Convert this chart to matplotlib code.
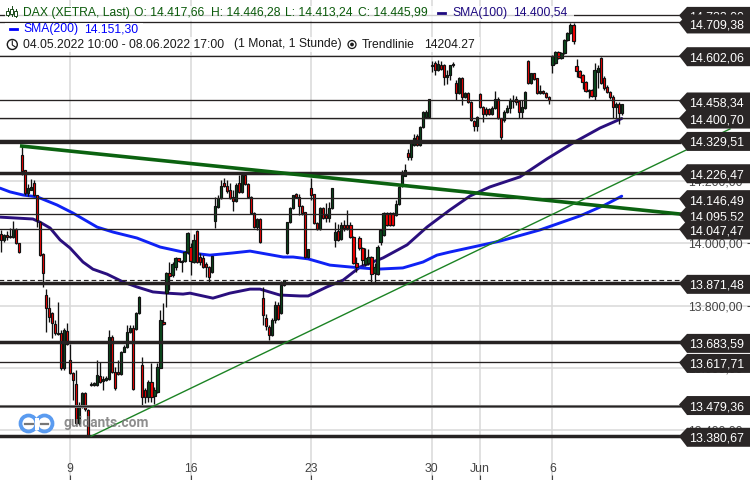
import matplotlib
matplotlib.use("Agg")
import matplotlib.pyplot as plt
from matplotlib.patches import Polygon, Rectangle, Circle
from matplotlib.lines import Line2D

plt.rcParams['font.family'] = ['Liberation Sans', 'DejaVu Sans']

opens = [14030,14011,14027,14023,14020,14046,14001,14283,14235,14161,
14171,14194,14155,14068,13966,13834,13792,13776,13741,13709,
13712,13600,13718,13625,13584,13548,13423,13481,13519,13465,
13545,13545,13545,13574,13558,13561,13564,13699,13587,13587,
13580,13651,13667,13715,13728,13725,13776,13609,13529,13507,
13555,13510,13523,13600,13747,13840,13905,13898,13924,13953,
13940,13943,13972,13988,13940,14039,13956,13953,13934,13924,
13908,14072,14117,14145,14194,14184,14171,14149,14136,14194,
14165,14219,14190,14149,14097,14052,14078,13824,13760,13731,
13706,13754,13802,13776,13866,13969,14068,14113,14158,14149,
14120,14100,13956,14178,14158,14065,14046,14113,14091,14081,
14113,14011,14039,14014,14059,14059,14059,14020,13937,14017,
13985,13934,13937,13956,13905,13901,14004,14027,14097,14097,
14097,14091,14126,14184,14216,14290,14277,14316,14344,14316,
14373,14405,14405,14569,14579,14556,14572,14572,14534,14540,
14572,14515,14482,14531,14470,14482,14454,14393,14377,14479,
14438,14431,14431,14415,14434,14463,14402,14396,14421,14434,
14457,14463,14457,14421,14434,14585,14515,14547,14531,14482,
14489,14482,14470,14572,14579,14614,14595,14611,14653,14675,
14701,14569,14553,14540,14518,14489,14492,14473,14550,14595,
14531,14502,14486,14470,14438,14447,14417.66]

closes = [14011,14027,14020,14020,14046,14001,13972,14232,14161,14178,
14181,14155,14075,13962,13905,13792,13763,13744,13712,13712,
13600,13722,13677,13584,13561,13423,13481,13519,13468,13385,
13548,13552,13577,13555,13564,13568,13699,13587,13536,13580,
13651,13667,13715,13728,13532,13776,13828,13507,13507,13555,
13507,13529,13603,13754,13741,13905,13895,13934,13953,13943,
13943,13972,14033,13943,14011,13940,13940,13924,13924,13892,
13959,14120,14145,14184,14184,14168,14145,14136,14187,14165,
14219,14190,14149,14097,14052,14078,14004,13770,13735,13706,
13754,13802,13757,13866,13882,14068,14113,14155,14149,14120,
14097,13956,13982,14155,14065,14046,14113,14081,14081,14113,
14178,14036,14011,14059,14049,14049,14020,13937,13924,13985,
13946,13953,13956,13901,13924,13988,14043,14097,14059,14059,
14059,14126,14181,14219,14235,14277,14322,14338,14316,14373,
14421,14421,14463,14572,14556,14576,14559,14534,14540,14572,
14576,14482,14531,14470,14482,14454,14396,14377,14405,14438,
14415,14415,14415,14434,14463,14402,14341,14421,14434,14460,
14460,14454,14421,14438,14486,14515,14547,14527,14482,14489,
14482,14470,14460,14601,14614,14595,14611,14653,14675,14701,
14649,14553,14534,14518,14489,14492,14473,14556,14563,14515,
14499,14486,14470,14438,14447,14418,14445.99]

highs = [14043,14030,14039,14049,14072,14049,14001,14316,14235,14190,
14206,14203,14155,14072,13969,13853,13828,13779,13754,13812,
13722,13728,13744,13677,13587,13593,13491,13523,13523,13468,
13555,13555,13625,13619,13574,13574,13722,13706,13603,13625,
13654,13674,13738,13738,13738,13779,13831,13635,13536,13561,
13616,13539,13616,13786,13808,13908,13940,13940,13956,13953,
13946,13975,14036,14001,14030,14043,13969,13962,13940,13927,
13959,14149,14155,14203,14210,14203,14194,14171,14194,14219,
14229,14219,14194,14152,14100,14081,14081,13860,13773,13738,
13760,13815,13812,13879,13882,14068,14117,14155,14161,14158,
14123,14100,13982,14210,14158,14068,14117,14117,14129,14133,
14178,14068,14062,14068,14075,14107,14068,14023,13956,14023,
13988,13985,13982,13959,13937,13994,14043,14100,14100,14100,
14100,14139,14184,14235,14254,14303,14328,14351,14351,14377,
14425,14428,14463,14585,14585,14588,14585,14576,14556,14572,
14582,14524,14534,14534,14486,14486,14457,14396,14409,14482,
14441,14438,14434,14441,14489,14470,14402,14428,14444,14466,
14476,14473,14460,14460,14489,14588,14547,14547,14531,14508,
14492,14486,14473,14604,14617,14617,14614,14656,14678,14707,
14707,14592,14556,14543,14521,14495,14495,14579,14572,14598,
14537,14508,14489,14476,14454,14454,14446.28]

lows = [13972,14004,14011,14017,14017,13998,13969,14219,14155,14152,
14171,14152,14052,13959,13860,13715,13747,13696,13706,13706,
13593,13593,13674,13580,13497,13417,13417,13471,13462,13381,
13542,13542,13542,13552,13529,13558,13561,13584,13529,13577,
13577,13651,13664,13712,13529,13722,13773,13481,13487,13491,
13491,13484,13520,13600,13738,13796,13850,13892,13914,13940,
13908,13940,13966,13898,13937,13937,13930,13921,13892,13876,
13905,14049,14113,14142,14181,14161,14142,14104,14133,14161,
14161,14187,14145,14094,14049,14043,14001,13738,13722,13690,
13703,13744,13754,13773,13863,13966,14065,14110,14145,14091,
14091,13953,13953,14139,14062,14043,14043,14078,14068,14068,
14110,13988,14007,14011,14039,14043,14017,13934,13908,13978,
13930,13927,13930,13872,13872,13898,13994,14023,14055,14055,
14055,14088,14123,14181,14216,14267,14267,14312,14312,14312,
14370,14402,14402,14550,14540,14553,14556,14508,14511,14524,
14566,14460,14479,14444,14466,14450,14393,14360,14360,14434,
14389,14409,14412,14412,14431,14399,14332,14389,14418,14418,
14434,14444,14402,14402,14431,14511,14511,14524,14479,14479,
14479,14466,14447,14547,14576,14592,14592,14608,14649,14672,
14640,14534,14531,14495,14486,14466,14470,14460,14499,14511,
14492,14482,14463,14402,14402,14383,14413.24]

sma100_bar = [-0.2,10.7,13,16.4,19.7,23,27.3,30.6,35.3,40.6,45.2,50.5,55.2,60.5,62.8,70.4,76,82.7,86,92.6,
              99.3,102,108.2,113.6,119.2,126.8,134.8,141.4,149,155.7,162.3,172.2,181.2,189.8,198.8,206]
sma100_val = [14084,14078,14068,14049,14011,13985,13940,13917,13901,13876,13860,13844,13840,13837,13840,13824,13840,13853,13853,13834,
              13831,13831,13860,13882,13924,13953,13995,14052,14107,14152,14181,14213,14271,14322,14370,14400.54]
sma200_bar = [-0.2,3.1,7.4,12.1,18.7,24,32,37.3,45.2,52.9,60.5,69.4,77,82.7,93.7,97,102,109.2,115.9,124.8,
              133.4,140.1,144.7,149,165.6,178.9,192.2,200.4,206]
sma200_val = [14177,14165,14155,14149,14123,14097,14052,14036,14017,13988,13972,13962,13969,13975,13956,13956,13950,13930,13924,13917,
              13921,13940,13962,13972,14007,14043,14088,14123,14151.3]

trend_thick_bar = [7, 225.3]
trend_thick_val = [14312, 14094]
trend_thin_bar = [30, 241.9]
trend_thin_val = [13381, 14367]

thin_levels = [14733, 14709.38, 14602.06, 14458.34, 14400.70, 14322, 14146.49, 14095.52, 14047.47, 13617.71]
thick_levels = [14329.51, 14226.47, 13871.48, 13683.59, 13380.67]
medium_levels = [13479.36]
dashed_levels = [13882]

tag_values = [14733.00, 14709.38, 14602.06, 14458.34, 14400.70, 14329.51, 14226.47, 14146.49, 14095.52,
              14047.47, 13871.48, 13683.59, 13617.71, 13479.36, 13380.67]
tag_labels = ["14.733,00", "14.709,38", "14.602,06", "14.458,34", "14.400,70", "14.329,51", "14.226,47", "14.146,49",
              "14.095,52", "14.047,47", "13.871,48", "13.683,59", "13.617,71", "13.479,36", "13.380,67"]

y_ticks = [13400, 13600, 13800, 14000, 14200, 14400, 14600]
y_tick_labels = ["13.400,00", "13.600,00", "13.800,00", "14.000,00", "14.200,00", "14.400,00", "14.600,00"]
x_ticks = [23, 63, 103, 143, 159, 183]
x_tick_labels = ["9", "16", "23", "30", "Jun", "6"]

UP, DOWN = "#0a4a1c", "#ff0000"
GRID, TICK = "#d9d9d9", "#444444"
LINE = "#262222"
W, H = 750, 480
Y_TOP, Y_BOTTOM = 14780.8, 13240.4

fig = plt.figure(figsize=(7.5, 4.8), dpi=100, facecolor="white")
ax = fig.add_axes([0, 0, 1, 1])
ax.set_xlim(-0.2156, 248.54)
ax.set_ylim(Y_BOTTOM, Y_TOP)
for s in ax.spines.values():
    s.set_visible(False)
ax.set_xticks(x_ticks, x_tick_labels)
ax.set_yticks(y_ticks, y_tick_labels)
ax.yaxis.tick_right()
ax.tick_params(axis='y', direction='in', length=2.5, width=0.8, color=TICK, labelcolor=TICK, labelsize=8.8, pad=-5)
ax.tick_params(axis='x', direction='in', length=3.5, width=0.8, color=TICK, labelcolor=TICK, labelsize=8.8, pad=-12.5)
for t in ax.get_yticklabels():
    t.set_ha('right')
ax.grid(True, color=GRID, lw=1.1, zorder=0)
ax.set_axisbelow(True)

ax.plot(sma100_bar, sma100_val, color="#2a0f7e", lw=2.1, zorder=2, solid_capstyle='round', solid_joinstyle='round')
ax.plot(sma200_bar, sma200_val, color="#0f22f5", lw=2.1, zorder=2, solid_capstyle='round', solid_joinstyle='round')

bars = list(range(len(opens)))
ax.vlines(bars, lows, highs, color="#111111", lw=0.95, zorder=3)
body_bottom = [min(o, c) for o, c in zip(opens, closes)]
body_height = [max(abs(c - o), 1.5) for o, c in zip(opens, closes)]
colors = [UP if c >= o else DOWN for o, c in zip(opens, closes)]
ax.bar(bars, body_height, bottom=body_bottom, width=0.74, color=colors, edgecolor="#111111", lw=0.85, zorder=4)

LINE_END = 225.5
ax.hlines(thin_levels, -1, LINE_END, color=LINE, lw=0.95, zorder=5)
ax.hlines(thick_levels, -1, LINE_END, color=LINE, lw=2.5, zorder=5)
ax.hlines(medium_levels, -1, LINE_END, color="#777777", lw=2.2, zorder=5)
ax.hlines(medium_levels, -1, LINE_END, color=LINE, lw=0.8, zorder=5)
ax.hlines(dashed_levels, -1, LINE_END, color=LINE, lw=0.85, linestyles=(0, (4, 2.5)), zorder=5)

ax.plot(trend_thick_bar, trend_thick_val, color="#0b6210", lw=2.6, zorder=6)
ax.plot(trend_thin_bar, trend_thin_val, color="#1c8324", lw=1.0, zorder=6)

ov = fig.add_axes([0, 0, 1, 1], facecolor='none')
ov.set_xlim(0, W)
ov.set_ylim(H, 0)
ov.axis('off')


def price_px(p):
    return (Y_TOP - p) / (Y_TOP - Y_BOTTOM) * H


# price tags at the right edge
tag_nudge = {"14.733,00": 1.5, "14.709,38": 1.7, "14.602,06": 1, "14.458,34": 1.5, "14.400,70": 0.6, "14.329,51": 0.8,
             "14.226,47": 1, "14.146,49": 2, "14.095,52": 2, "14.047,47": 1.5, "13.871,48": 1, "13.683,59": 1.5,
             "13.617,71": 1, "13.479,36": 0, "13.380,67": 1}
for i, (v, lab) in enumerate(zip(tag_values, tag_labels)):
    yc = price_px(v) + tag_nudge[lab]
    pts = [(750, yc - 9.5), (687, yc - 9.5), (679, yc - 1), (687, yc + 9.5), (750, yc + 9.5)]
    ov.add_patch(Polygon(pts, closed=True, fc="#2a2626", ec='none', zorder=10 + i))
    ov.text(689, yc, lab, color="white", fontsize=8.9, va='center_baseline', ha='left', zorder=10 + i)

# legend rows
GREEN_TXT, NAVY, BLUE, BLACK = "#0b5a0b", "#1e0a80", "#0000ff", "#1a1a1a"
for (x0, y0, x1, y1) in [(5, 6, 574, 21), (5, 23, 143, 36.5), (5, 37, 480, 52)]:
    ov.add_patch(Rectangle((x0, y0), x1 - x0, y1 - y0, fc="white", ec='none', alpha=0.78, zorder=8))


def row(x, y, s, c):
    ov.text(x, y, s, color=c, fontsize=8.75, va='center', ha='left', zorder=9)


row(23, 12.8, "DAX (XETRA, Last)", GREEN_TXT)
row(134, 12.8, "O: 14.417,66", GREEN_TXT)
row(211, 12.8, "H: 14.446,28", GREEN_TXT)
row(285, 12.8, "L: 14.413,24", GREEN_TXT)
row(358, 12.8, "C: 14.445,99", GREEN_TXT)
row(452, 12.8, "SMA(100)", NAVY)
row(513, 12.8, "14.400,54", NAVY)
row(23, 29, "SMA(200)", BLUE)
row(84, 29, "14.151,30", BLUE)
row(23, 44.5, "04.05.2022 10:00 - 08.06.2022 17:00", BLACK)
row(234, 44.5, "(1 Monat, 1 Stunde)", BLACK)
row(362, 44.5, "Trendlinie", BLACK)
row(424, 44.5, "14204.27", BLACK)

# legend icons
ov.add_line(Line2D([438, 445], [13, 13], color=NAVY, lw=2, zorder=9))
ov.add_line(Line2D([9.5, 17], [29, 29], color=BLUE, lw=2, zorder=9))
for cx, top, bot, b0, b1 in [(7.5, 8, 16, 11, 15), (11.5, 6, 16, 9, 14), (15.5, 9, 17, 11, 16)]:
    ov.add_line(Line2D([cx, cx], [top, bot], color="#1a4a1a", lw=0.7, zorder=9))
    ov.add_patch(Rectangle((cx - 1.2, b0), 2.4, b1 - b0, fc="white", ec="#1a4a1a", lw=0.7, zorder=9))
ov.add_patch(Circle((12.3, 44.5), 5, fc='none', ec=BLACK, lw=1, zorder=9))
ov.add_line(Line2D([12.3, 12.3, 15.3], [41, 45, 47], color=BLACK, lw=0.8, zorder=9))
ov.add_patch(Circle((352, 44.5), 4, fc='none', ec=BLACK, lw=0.9, zorder=9))
ov.add_patch(Circle((352, 44.5), 1.9, fc=BLACK, ec='none', zorder=9))

# watermark
LOGO = "#5a9bf0"
ov.add_patch(Circle((28.5, 423.5), 8, fc='none', ec=LOGO, lw=2.7, zorder=9))
ov.add_patch(Circle((44.5, 423.5), 8, fc='none', ec=LOGO, lw=2.7, zorder=9))
ov.add_patch(Rectangle((34.7, 417.5), 3.8, 12, fc='white', ec='none', zorder=9))
ov.add_line(Line2D([25, 33], [423.5, 423.5], color="#777777", lw=1.6, zorder=9))
ov.add_line(Line2D([40.5, 48], [423.5, 423.5], color="#777777", lw=1.6, zorder=9))
ov.text(63, 423.5, "guidants.com", color="#7a7a7a", alpha=0.85, fontsize=9.9, fontweight='bold', family='Roboto',
        va='center', ha='left', zorder=9)

fig.savefig("out.png", dpi=100, facecolor="white")
